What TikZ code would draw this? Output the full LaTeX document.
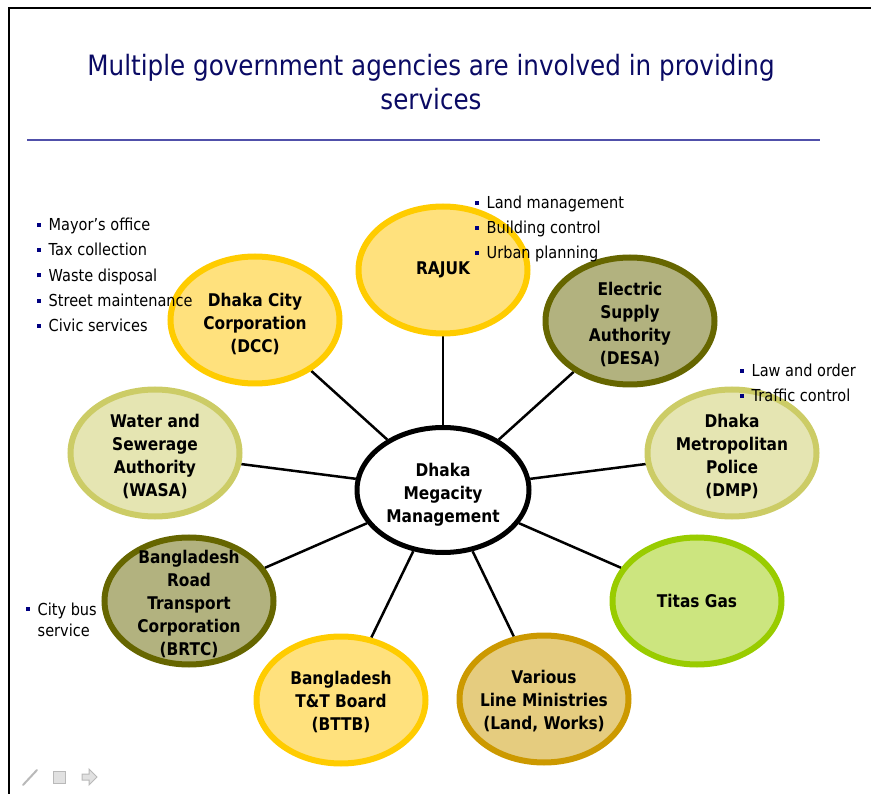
\documentclass[tikz,border=0pt]{standalone}
\usepackage{fontspec}
\usepackage{calc}
\setmainfont{DejaVu Sans}[FakeStretch=0.88]
\usetikzlibrary{shapes.geometric,backgrounds}

\definecolor{titleblue}{RGB}{10,10,100}
\definecolor{ruleblue}{RGB}{80,80,170}
\definecolor{dotblue}{RGB}{0,0,128}
\definecolor{goldline}{RGB}{255,204,0}
\definecolor{goldfill}{RGB}{255,225,125}
\definecolor{oliveline}{RGB}{102,102,0}
\definecolor{olivefill}{RGB}{178,178,127}
\definecolor{paleline}{RGB}{204,204,102}
\definecolor{palefill}{RGB}{229,229,178}
\definecolor{limeline}{RGB}{153,204,0}
\definecolor{limefill}{RGB}{204,229,127}
\definecolor{ochreline}{RGB}{204,153,0}
\definecolor{ochrefill}{RGB}{229,204,127}
\definecolor{iconfill}{RGB}{225,225,225}
\definecolor{iconline}{RGB}{185,185,185}

\newcommand{\bul}{\textcolor{dotblue}{\rule[4pt]{4pt}{4pt}}\hspace{7.5pt}}
% centred lines of zero size, set a little below the centre
\newcommand{\ag}[2][4.5pt]{\raisebox{(\depth-\height)/2-#1}[0pt][0pt]{\makebox[0pt]{\begin{tabular}[t]{@{}c@{}}#2\end{tabular}}}}

\tikzset{
  agency/.style={ellipse, line width=6pt, minimum width=169pt, minimum height=127pt,
    inner sep=0pt, font=\bfseries\fontsize{17.5}{23}\selectfont},
  goldag/.style={agency, draw=goldline, fill=goldfill},
  oliveag/.style={agency, draw=oliveline, fill=olivefill},
  paleag/.style={agency, draw=paleline, fill=palefill},
  limeag/.style={agency, draw=limeline, fill=limefill},
  ochreag/.style={agency, draw=ochreline, fill=ochrefill},
  hub/.style={agency, draw=black, fill=white, line width=5pt, minimum width=172pt, minimum height=125pt},
  link/.style={line width=2.5pt},
  note/.style={anchor=base west, inner sep=0pt, font=\fontsize{16.5}{22}\selectfont},
  icon/.style={draw=iconline, fill=iconfill, line width=1pt}
}

\begin{document}
\begin{tikzpicture}[x=1pt, y=-1pt]
    \useasboundingbox (0,0) rectangle (871,794);

    % slide frame and heading
    \draw[line width=2.5pt] (9,794) -- (9,8) -- (871,8);
    \node[text=titleblue, align=center, font=\fontsize{28}{34}\selectfont] (title) at (431,82)
        {Multiple government agencies are involved in providing\\services};
    \draw[ruleblue, line width=2pt] (27,140) -- (820,140);

    % agencies
    \node[hub] (hub) at (443,490) {\ag{Dhaka\\Megacity\\Management}};
    \node[goldag] (rajuk) at (443,270) {RAJUK};
    \node[goldag] (dcc) at (255,320) {\ag[5pt]{Dhaka City\\Corporation\\(DCC)}};
    \node[oliveag] (desa) at (630,321) {\ag{Electric\\Supply\\Authority\\(DESA)}};
    \node[paleag] (wasa) at (155,453) {\ag{Water and\\Sewerage\\Authority\\(WASA)}};
    \node[paleag] (dmp) at (732,453) {\ag{Dhaka\\Metropolitan\\Police\\(DMP)}};
    \node[oliveag] (brtc) at (189,601) {\ag[3.5pt]{Bangladesh\\Road\\Transport\\Corporation\\(BRTC)}};
    \node[limeag] (titas) at (697,601) {Titas Gas};
    \node[goldag] (bttb) at (341,700) {\ag[3pt]{Bangladesh\\T\&T Board\\(BTTB)}};
    \node[ochreag] (lines) at (544,699) {\ag[3pt]{Various\\Line Ministries\\(Land, Works)}};

    % spokes
    \begin{scope}[on background layer]
    \foreach \a in {rajuk,dcc,desa,wasa,dmp,brtc,titas,bttb,lines}
        \draw[link] (hub) -- (\a);
    \end{scope}

    % bullet notes
    \foreach \t [count=\i] in {Mayor’s office, Tax collection, Waste disposal, Street maintenance, Civic services}
        \node[note] (dccnote\i) at (37,{230.7+25.3*(\i-1)}) {\bul\t};
    \foreach \t [count=\i] in {Land management, Building control, Urban planning}
        \node[note] (rajuknote\i) at (475,{209+25*(\i-1)}) {\bul\t};
    \foreach \t [count=\i] in {Law and order, Traffic control}
        \node[note] (dmpnote\i) at (740,{377+25*(\i-1)}) {\bul\t};
    \node[note] (brtcnote1) at (26,615) {\bul City bus};
    \node[note] (brtcnote2) at (26,636) {\hphantom{\bul}service};

    % slide controls
    \draw[iconline, line width=2pt, line cap=round] (23,785) -- (37,770);
    \draw[icon] (53,771) rectangle (65,783);
    \draw[icon] (82,774) -- (89,774) -- (89,769) -- (97,777) -- (89,785) -- (89,780) -- (82,780) -- cycle;
\end{tikzpicture}
\end{document}
